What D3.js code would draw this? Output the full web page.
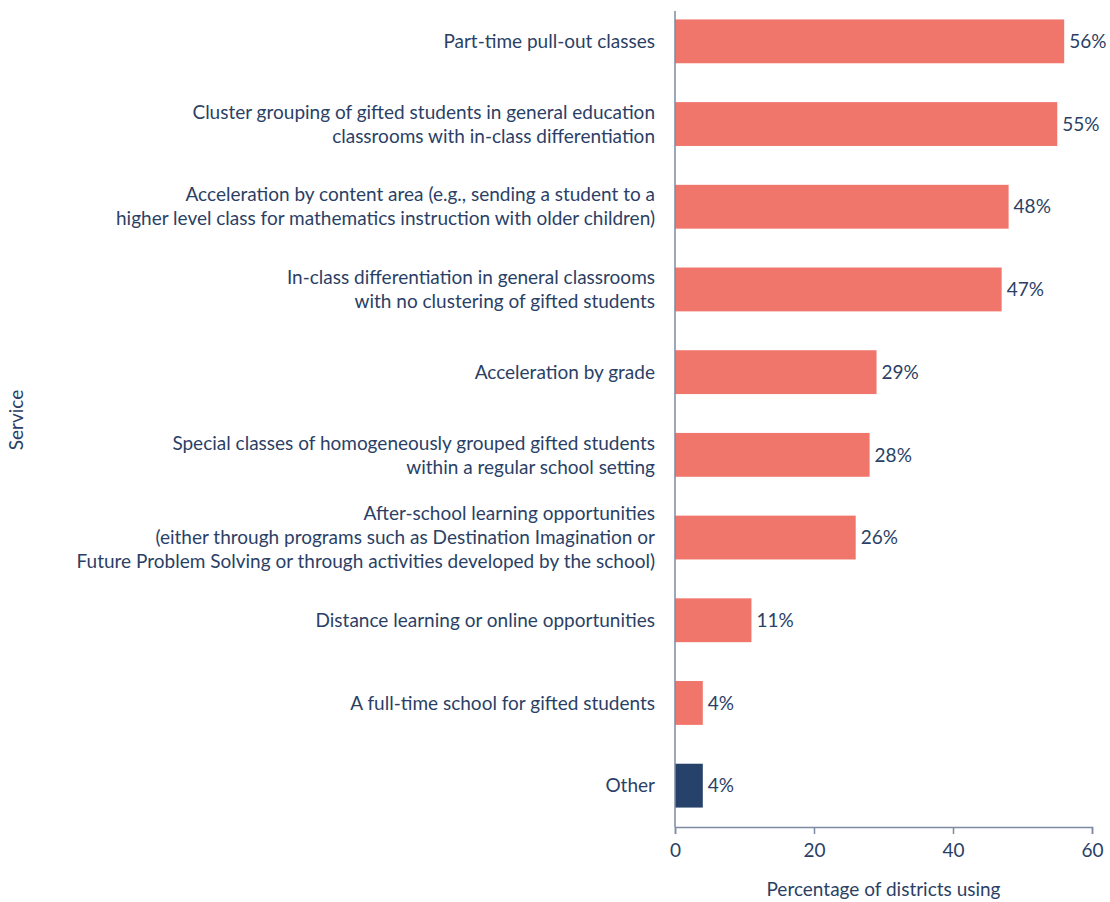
<!DOCTYPE html>
<html>
<head>
<meta charset="utf-8">
<script src="https://cdn.jsdelivr.net/npm/d3@7"></script>
<style>
  html, body { margin: 0; padding: 0; background: #ffffff; }
  svg text { font-family: Lato, "Open Sans", sans-serif; fill: #2b3f66; }
</style>
</head>
<body>
<svg id="chart" width="1110" height="902"></svg>
<script>
// Services offered, one entry per bar (lines of each label as drawn)
const services = [
  ["Part-time pull-out classes"],
  ["Cluster grouping of gifted students in general education", "classrooms with in-class differentiation"],
  ["Acceleration by content area (e.g., sending a student to a", "higher level class for mathematics instruction with older children)"],
  ["In-class differentiation in general classrooms", "with no clustering of gifted students"],
  ["Acceleration by grade"],
  ["Special classes of homogeneously grouped gifted students", "within a regular school setting"],
  ["After-school learning opportunities", "(either through programs such as Destination Imagination or", "Future Problem Solving or through activities developed by the school)"],
  ["Distance learning or online opportunities"],
  ["A full-time school for gifted students"],
  ["Other"]
];
const percentages = [56, 55, 48, 47, 29, 28, 26, 11, 4, 4];
const xTicks = [0, 20, 40, 60];
const xTitle = "Percentage of districts using";
const yTitle = "Service";

const svg = d3.select("#chart");
const plotLeft = 675, plotRight = 1092, plotTop = 0, plotBottom = 827;

const x = d3.scaleLinear().domain([0, 60]).range([plotLeft, plotRight]);
const y = d3.scaleBand().domain(d3.range(services.length)).range([plotTop, plotBottom]).paddingInner(0.47).paddingOuter(0.235);

const coral = "#f0756b", navy = "#26416a", axisColor = "#7d8aa3";
const fs = 19;

// bars
svg.append("g").selectAll("rect")
  .data(percentages)
  .join("rect")
  .attr("x", x(0))
  .attr("y", (d, i) => y(i))
  .attr("width", d => x(d) - x(0))
  .attr("height", y.bandwidth())
  .attr("fill", (d, i) => services[i][0] === "Other" ? navy : coral);

// value labels
svg.append("g").selectAll("text")
  .data(percentages)
  .join("text")
  .attr("x", d => x(d) + 5)
  .attr("y", (d, i) => y(i) + y.bandwidth() / 2)
  .attr("dy", "0.35em")
  .attr("font-size", fs)
  .text(d => d + "%");

// category labels, right-aligned, multi-line centred on the band
const lineH = 24;
const labels = svg.append("g").selectAll("text")
  .data(services)
  .join("text")
  .attr("text-anchor", "end")
  .attr("font-size", fs)
  .attr("y", (d, i) => y(i) + y.bandwidth() / 2);
labels.selectAll("tspan")
  .data(d => d.map((s, k) => ({ s, k, n: d.length })))
  .join("tspan")
  .attr("x", plotLeft - 20)
  .attr("dy", (t) => t.k === 0 ? (0.35 * fs - (t.n - 1) * lineH / 2) : lineH)
  .text(t => t.s);

// vertical axis line
svg.append("line")
  .attr("x1", plotLeft).attr("x2", plotLeft)
  .attr("y1", 11).attr("y2", plotBottom)
  .attr("stroke", axisColor).attr("stroke-width", 1.5);

// x axis
const xAxis = svg.append("g")
  .attr("transform", `translate(0,${plotBottom})`)
  .call(d3.axisBottom(x).tickValues(xTicks).tickSize(7).tickPadding(10));
xAxis.select(".domain").attr("stroke", axisColor).attr("stroke-width", 1.5);
xAxis.selectAll(".tick line").attr("stroke", axisColor).attr("stroke-width", 1.5);
xAxis.selectAll(".tick text").attr("font-size", fs).attr("font-family", "Lato, sans-serif").attr("fill", "#2b3f66");

// axis titles
svg.append("text")
  .attr("x", (plotLeft + plotRight) / 2)
  .attr("y", 896)
  .attr("text-anchor", "middle")
  .attr("font-size", fs)
  .text(xTitle);

svg.append("text")
  .attr("transform", "translate(23,420) rotate(-90)")
  .attr("text-anchor", "middle")
  .attr("font-size", fs)
  .text(yTitle);
</script>
</body>
</html>
